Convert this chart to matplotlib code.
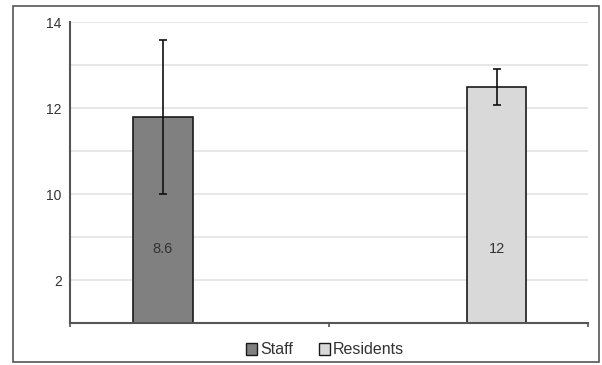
import matplotlib.pyplot as plt
from matplotlib.patches import Rectangle, Patch

plt.rcParams['font.family'] = ['Liberation Sans', 'DejaVu Sans']

# data (axis units, one unit per gridline)
groups = ["Staff", "Residents"]
heights = [4.79, 5.48]
errors = [1.80, 0.42]
bar_labels = ["8.6", "12"]
colors = ["#808080", "#d9d9d9"]
xpos = [0.359, 1.647]

tick_pos = [1, 3, 5, 7]
tick_text = ["2", "10", "12", "14"]

fig = plt.figure(figsize=(6.02, 3.65), dpi=100)
ax = fig.add_axes([70 / 602, 1 - 323 / 365, 518 / 602, 301 / 365])

# outer frame of the chart
fig.patches.append(Rectangle((13 / 602, 1 - 362 / 365), 586 / 602, 356 / 365,
                             transform=fig.transFigure, fill=False,
                             edgecolor="#555555", linewidth=1.2))

for y in range(1, 8):
    ax.axhline(y, color="#e3e3e3", linewidth=1.2, zorder=0)

ax.bar(xpos, heights, width=0.23, color=colors, edgecolor="#1a1a1a",
       linewidth=1.2, zorder=2)
ax.errorbar(xpos, heights, yerr=errors, fmt="none", ecolor="#111111",
            elinewidth=1.2, capsize=3, capthick=1.2, zorder=3)

for x, lab in zip(xpos, bar_labels):
    ax.text(x, 1.72, lab, ha="center", va="center", fontsize=10.5,
            color="#333333", zorder=4)

ax.set_xlim(0, 2)
ax.set_ylim(0, 7)
ax.set_yticks(tick_pos)
ax.set_yticklabels(tick_text, fontsize=10, color="#333333")
ax.set_xticks([0, 1, 2])
ax.set_xticklabels([])
ax.tick_params(axis="y", length=0, pad=6)
ax.tick_params(axis="x", length=3, color="#555555", width=1.2, direction="out")

for side in ["top", "right"]:
    ax.spines[side].set_visible(False)
for side in ["left", "bottom"]:
    ax.spines[side].set_color("#555555")
    ax.spines[side].set_linewidth(1.5)
ax.set_facecolor("white")

handles = [Patch(facecolor=c, edgecolor="#1a1a1a", label=g)
           for c, g in zip(colors, groups)]
fig.legend(handles=handles, loc="center", bbox_to_anchor=(325 / 602, 1 - 350 / 365),
           ncol=2, frameon=False, fontsize=11.5, handlelength=0.7, handleheight=0.7,
           handletextpad=0.2, columnspacing=1.6, labelcolor="#333333")

fig.savefig("out.png", dpi=100)
